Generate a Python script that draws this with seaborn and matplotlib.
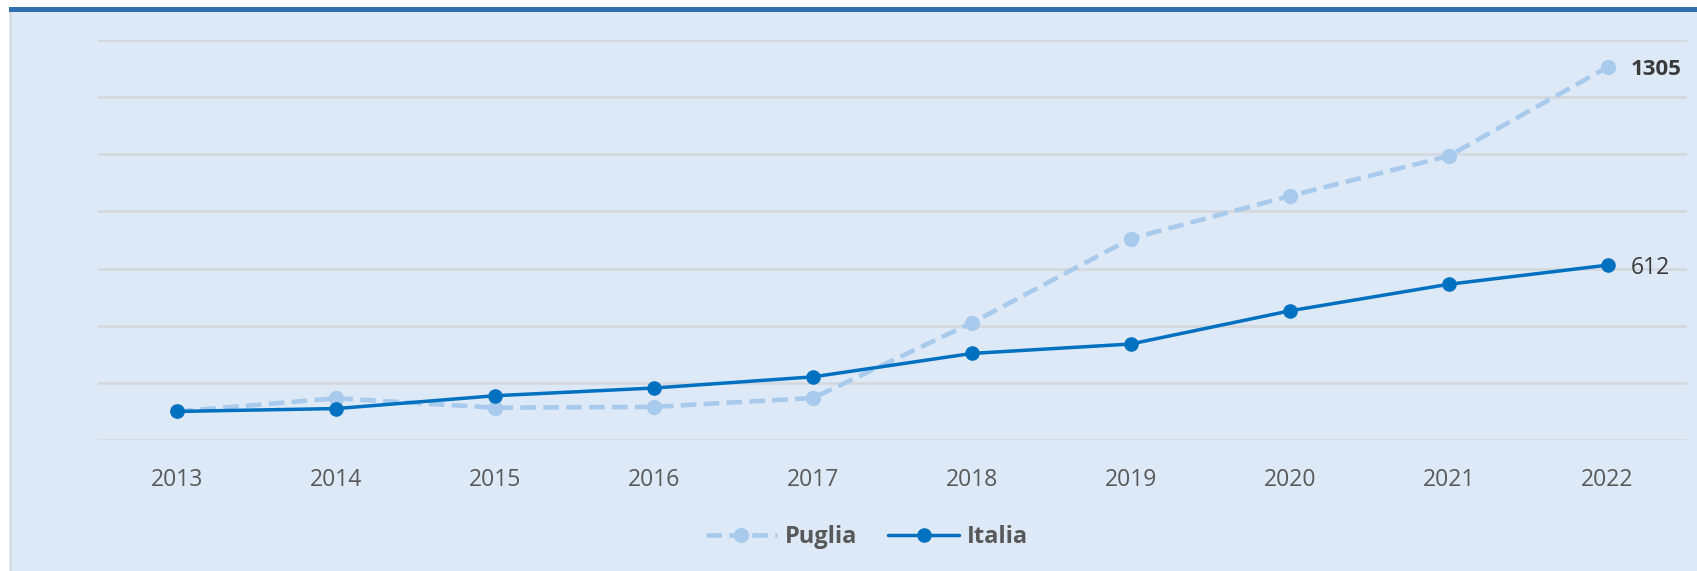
import matplotlib
matplotlib.use('Agg')
import matplotlib.pyplot as plt
from matplotlib.patches import Rectangle
from matplotlib.lines import Line2D
import seaborn as sns
import pandas as pd

# Data (index, 2013 = 100)
years = [2013, 2014, 2015, 2016, 2017, 2018, 2019, 2020, 2021, 2022]
puglia = [100, 146, 113, 116, 147, 410, 705, 854, 994, 1305]
italia = [100, 110, 155, 182, 221, 303, 336, 452, 545, 612]
series_names = ['Puglia', 'Italia']
y_grid = [0, 200, 400, 600, 800, 1000, 1200, 1400]

df = pd.DataFrame({'anno': years, 'Puglia': puglia, 'Italia': italia})

sns.set_theme(style='white')
plt.rcParams['font.family'] = ['Open Sans', 'DejaVu Sans']

bg = '#dde9f6'
c_puglia = '#a8caec'
c_italia = '#0070c0'
text_grey = '#595959'

fig = plt.figure(figsize=(16.97, 5.71), dpi=100)
fig.patch.set_facecolor('white')

# panel background, top blue bar and left grey border
fig.patches.append(Rectangle((9 / 1697, 0), 1, 1 - 7 / 571, transform=fig.transFigure,
                             facecolor=bg, edgecolor='none', zorder=-3))
fig.patches.append(Rectangle((9 / 1697, 1 - 11.5 / 571), 1, 4.5 / 571, transform=fig.transFigure,
                             facecolor='#2e6fae', edgecolor='none', zorder=-2))
fig.patches.append(Rectangle((10 / 1697, 0), 2 / 1697, 1 - 11.5 / 571, transform=fig.transFigure,
                             facecolor='#d6d9dd', edgecolor='none', zorder=-2))

ax = fig.add_axes([98 / 1697, 1 - 440 / 571, 1589 / 1697, 400 / 571])
ax.set_facecolor('none')

puglia_style = dict(color=c_puglia, linewidth=3.3, linestyle=(0, (3.4, 1.6)),
                    marker='o', markersize=11, markeredgewidth=0)
italia_style = dict(color=c_italia, linewidth=2.5, marker='o', markersize=10.5, markeredgewidth=0)

sns.lineplot(data=df, x='anno', y='Puglia', ax=ax, zorder=3, **puglia_style)
sns.lineplot(data=df, x='anno', y='Italia', ax=ax, zorder=4, **italia_style)

ax.set_xlim(years[0] - 0.5, years[-1] + 0.5)
ax.set_ylim(y_grid[0], y_grid[-1])
ax.set_yticks(y_grid)
ax.set_yticklabels([])
ax.set_xticks(years)
ax.set_xticklabels([str(y) for y in years], fontsize=16.5, color=text_grey)
ax.tick_params(axis='x', length=0, pad=20)
ax.tick_params(axis='y', length=0)
ax.grid(axis='y', color='#d4d7db', linewidth=1.8)
ax.grid(axis='x', visible=False)
ax.set_axisbelow(True)
for s in ax.spines.values():
    s.set_visible(False)
ax.set_xlabel('')
ax.set_ylabel('')

# end labels
ax.annotate(str(puglia[-1]), (years[-1], puglia[-1]), xytext=(17, -1.5), textcoords='offset points',
            va='center', ha='left', fontsize=16, fontweight='bold', color='#3a3a3a')
ax.annotate(str(italia[-1]), (years[-1], italia[-1]), xytext=(17, -2), textcoords='offset points',
            va='center', ha='left', fontsize=16.5, color='#3a3a3a')

handles = [Line2D([], [], **puglia_style), Line2D([], [], **italia_style)]
leg = fig.legend(handles, series_names, loc='center', bbox_to_anchor=(0.511, 1 - 537 / 571),
                 ncol=2, frameon=False, handlelength=3.0, handletextpad=0.35, columnspacing=1.3,
                 prop={'size': 17, 'weight': 'bold'})
for t in leg.get_texts():
    t.set_color(text_grey)

fig.savefig('out.png', dpi=100, facecolor=fig.get_facecolor())
